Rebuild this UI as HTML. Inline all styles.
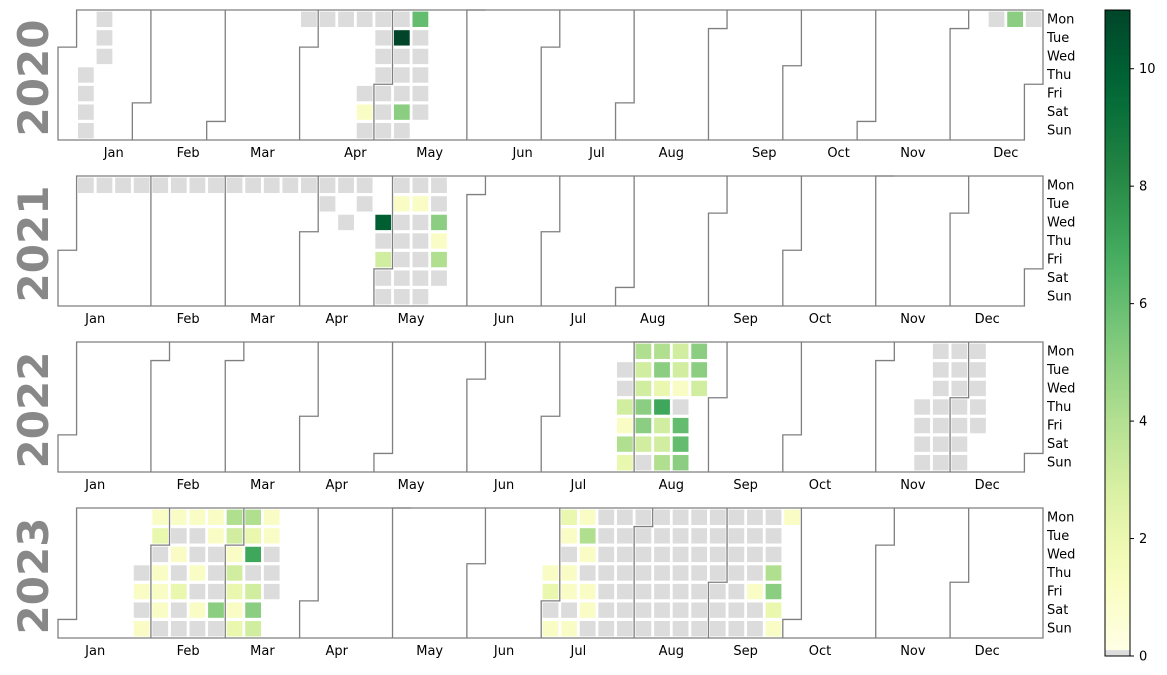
<!DOCTYPE html>
<html><head><meta charset="utf-8"><style>
body{margin:0;background:#fff;}
svg{display:block;font-family:"DejaVu Sans","Liberation Sans",sans-serif;}
</style></head><body>
<svg id="chart" width="1167" height="675" viewBox="0 0 1167 675" xmlns="http://www.w3.org/2000/svg"></svg>
<script>
const years = [2020, 2021, 2022, 2023];
// runs of consecutive days (stride in days); null = no data
const startDates = [
 "2020-01-09","2020-03-30","2020-04-20","2020-12-14",
 "2021-01-04","2021-04-06","2021-04-14","2021-04-20","2021-04-28",
 "2022-07-26","2022-11-17",
 "2023-01-26","2023-06-29"
];
const strides = [1,7,1,7, 7,1,1,1,1, 1,1, 1,1];
const n = null;
const dayValues = [
 [0,0,0,0,0,0,0],
 [0,0,0],
 [0,n,n,n,0,1,0, 0,0,0,0,0,0,0, 0,11,0,0,0,5,0, 6,0,0,0,0,0],
 [0,5,0],
 [0,0,0,0,0,0,0,0,0,0,0,0,0,0,0,0],
 [0],[0],[0],
 [10,0,3,0,0, 0,1,0,0,0,0,0, 0,1,0,0,0,0,0, 0,0,5,1,4,0],
 [0,0,3,1,4,2, 4,3,3,5,5,3,0, 4,5,2,7,3,3,4, 3,3,1,0,6,6,5, 5,5,3],
 [0,0,0,0, 0,0,0,0,0,0,0, 0,0,0,0,0,0,0, 0,0,0,0,0],
 [0,1,0,1, 1,2,0,1,1,1,0, 1,0,1,0,2,0,0, 1,0,0,1,0,1,0, 1,1,0,0,0,5,0, 4,3,1,3,2,1,2, 4,2,7,0,3,5,3, 1,1,0,0,0],
 [1,2,0,1, 2,1,0,1,1,0,1, 1,4,1,0,1,1,0,
  0,0,0,0,0,0,0, 0,0,0,0,0,0,0, 0,0,0,0,0,0,0, 0,0,0,0,0,0,0,
  0,0,0,0,0,0,0, 0,0,0,0,0,0,0, 0,0,0,0,0,0,0, 0,0,0,0,0,0,0,
  0,0,0,0,1,0,0, 0,0,0,4,5,2,1, 1]
];
const weekdayLabels = ["Mon","Tue","Wed","Thu","Fri","Sat","Sun"];
const monthLabels = ["Jan","Feb","Mar","Apr","May","Jun","Jul","Aug","Sep","Oct","Nov","Dec"];
// month tick positions in week-column units
const monthTicks = [
 [3,7,11,16,20,25,29,33,38,42,46,51],
 [2,7,11,15,19,24,28,32,37,41,46,50],
 [2,7,11,15,19,24,28,33,37,41,46,50],
 [2,7,11,15,20,24,28,33,37,41,46,50]
];
const colorTicks = [0,2,4,6,8,10];
const vmax = 11;

const svg = document.getElementById('chart');
const NS = "http://www.w3.org/2000/svg";
const X0 = 58, CW = 985/53, RH = 130/7, PANEL_TOP = 10, PANEL_STEP = 166;
const stops = ["#ffffe5","#f7fcb9","#d9f0a3","#addd8e","#78c679","#41ab5d","#238443","#006837","#004529"];
function hex(h){return [1,3,5].map(i=>parseInt(h.substr(i,2),16));}
function cmap(t){
  t=Math.max(0,Math.min(1,t));const p=t*8;const i=Math.min(7,Math.floor(p));const f=p-i;
  const a=hex(stops[i]),b=hex(stops[i+1]);
  return "rgb("+a.map((v,k)=>Math.round(v+(b[k]-v)*f)).join(",")+")";
}
function color(v){return v===0?"#dcdcdc":cmap(v/vmax);}
function el(tag,attrs,parent){const e=document.createElementNS(NS,tag);for(const k in attrs)e.setAttribute(k,attrs[k]);(parent||svg).appendChild(e);return e;}
function xc(c){return X0+c*CW;}
function utc(y,m,d){return Date.UTC(y,m,d);}
function pos(t){
  const dt=new Date(t);const y=dt.getUTCFullYear();
  const wd=(new Date(utc(y,0,1)).getUTCDay()+6)%7;
  const d=Math.round((t-utc(y,0,1))/86400000);
  return {year:y,col:Math.floor((d+wd)/7),row:(d+wd)%7};
}
function panelTop(y){return PANEL_TOP+years.indexOf(y)*PANEL_STEP;}
function yr(y,r){return panelTop(y)+r*RH;}

// cells
startDates.forEach((s,i)=>{
  const [Y,M,D]=s.split("-").map(Number);
  dayValues[i].forEach((v,j)=>{
    if(v===null)return;
    const p=pos(utc(Y,M-1,D+j*strides[i]));
    const r=el('rect',{x:xc(p.col)+1.4,y:yr(p.year,p.row)+1.6,width:CW-2.8,height:RH-3.2,fill:color(v)});
    
    
  });
});

// outlines, labels
years.forEach((y,yi)=>{
  const top=panelTop(y),bot=top+7*RH;
  const g=el('g',{});
  
  
  const a=pos(utc(y,0,1)),b=pos(utc(y,11,31));
  const outline=el('path',{d:`M${xc(a.col)},${bot}L${xc(a.col)},${yr(y,a.row)}L${xc(a.col+1)},${yr(y,a.row)}L${xc(a.col+1)},${top}L${xc(b.col+1)},${top}L${xc(b.col+1)},${yr(y,b.row+1)}L${xc(b.col)},${yr(y,b.row+1)}L${xc(b.col)},${bot}Z`,fill:'none',stroke:'#7f7f7f','stroke-width':1.3},g);
  
  
  for(let m=1;m<12;m++){
    const p=pos(utc(y,m,1));
    const l=el('path',{d:`M${xc(p.col)},${bot}L${xc(p.col)},${yr(y,p.row)}L${xc(p.col+1)},${yr(y,p.row)}L${xc(p.col+1)},${top}`,fill:'none',stroke:'#7f7f7f','stroke-width':1.3},g);
    
    
  }
  for(let m=0;m<12;m++){
    const t=el('text',{x:X0+monthTicks[yi][m]*CW,y:bot+17,'font-size':13,'text-anchor':'middle',fill:'#000'},g);
    t.textContent=monthLabels[m];
    
    
  }
  weekdayLabels.forEach((w,r)=>{
    const t=el('text',{x:1047,y:yr(y,r)+RH/2+4,'font-size':13,fill:'#000'},g);
    t.textContent=w;
    
    
  });
  const yl=el('text',{x:0,y:0,'font-size':42,'font-weight':'bold',fill:'#888','text-anchor':'middle',transform:`translate(48,${top+68}) rotate(-90)`},g);
  yl.textContent=String(y);
  
  
});

// colorbar
const CB_X=1105,CB_W=25,CB_T=10,CB_B=656;
const defs=el('defs',{});
const grad=el('linearGradient',{id:'cbg',x1:0,y1:1,x2:0,y2:0},defs);
for(let i=0;i<=20;i++){el('stop',{offset:i/20,'stop-color':cmap(i/20)},grad);}
const cb=el('g',{});


function cy(v){return CB_B-(v/vmax)*(CB_B-CB_T);}
el('rect',{x:CB_X,y:CB_T,width:CB_W,height:cy(0.1)-CB_T,fill:'url(#cbg)'},cb);
el('rect',{x:CB_X,y:cy(0.1),width:CB_W,height:CB_B-cy(0.1),fill:'#dcdcdc'},cb);
el('rect',{x:CB_X,y:CB_T,width:CB_W,height:CB_B-CB_T,fill:'none',stroke:'#000','stroke-width':1},cb);
colorTicks.forEach(v=>{
  el('line',{x1:CB_X+CB_W,x2:CB_X+CB_W+4,y1:cy(v),y2:cy(v),stroke:'#000','stroke-width':1},cb);
  const t=el('text',{x:CB_X+CB_W+9,y:cy(v)+4.5,'font-size':13,fill:'#000'},cb);
  t.textContent=String(v);
  
  
});
</script>
</body></html>
